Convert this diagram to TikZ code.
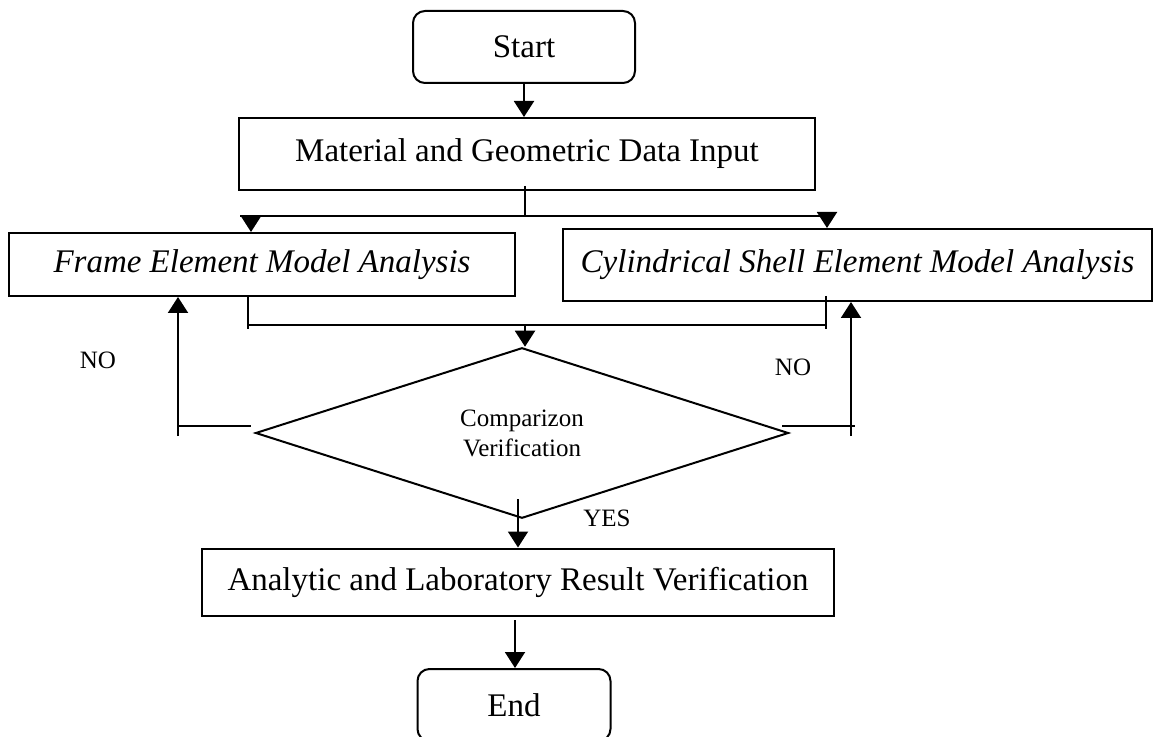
\documentclass[tikz,border=0pt]{standalone}
\usepackage{fontspec}
\setmainfont{Liberation Serif}
\usetikzlibrary{positioning, shapes.geometric, arrows.meta, calc}

\begin{document}
\begin{tikzpicture}[x=0.5pt, y=-0.5pt, line width=1pt,
    font=\fontsize{16.5}{19}\selectfont,
    box/.style={draw, rectangle, inner sep=0pt},
    rbox/.style={draw, rectangle, rounded corners=6pt, inner sep=0pt},
    arr/.style={-{Triangle[length=8pt, width=10pt]}},
    lbl/.style={font=\fontsize{12.5}{15}\selectfont}]
  \useasboundingbox (0,0) rectangle (1156,737);
  % boxes
  \node[rbox, minimum width=111pt, minimum height=36pt] (start) at (524,47) {Start};
  \node[box, minimum width=288pt, minimum height=36pt] (input) at (527,154) {Material and Geometric Data Input};
  \node[box, minimum width=253pt, minimum height=31.5pt, font=\fontsize{16.5}{19}\selectfont\itshape] (frame) at (262,264.5) {Frame Element Model Analysis};
  \node[box, minimum width=294.5pt, minimum height=36pt, font=\fontsize{16.5}{19}\selectfont\itshape] (shell) at (857.5,265) {Cylindrical Shell Element Model Analysis};
  \node[draw, diamond, inner sep=0pt, minimum width=266.5pt, minimum height=72.5pt, lbl, align=center] (cmp) at (522,433) {Comparizon\\Verification};
  \node[box, minimum width=316pt, minimum height=33.5pt] (result) at (518,582) {Analytic and Laboratory Result Verification};
  \node[rbox, minimum width=96.5pt, minimum height=36pt] (stop) at (514,705) {End};
  % split
  \draw[arr] (start.south) -- (start.south |- input.north);
  \coordinate (sp) at (525,216);
  \draw ($(input.south)+(-2,-5)$) -- (sp);
  \draw (240,216) -- (828,216);
  \draw[arr] (251,216) -- (251,216 |- frame.north);
  \draw[arr] (827,216) -- (827,216 |- shell.north);
  % merge
  \coordinate (mg) at (525,325);
  \draw (248,296) -- (248,329);
  \draw (826,296) -- (826,329);
  \draw (248,325) -- (826,325);
  \draw[arr] (mg) -- (mg |- cmp.north);
  % NO loops
  \draw (cmp.west) ++(-4,-7) -- (178,426);
  \draw[arr] (178,436) -- (178,436 |- frame.south);
  \draw (782,426) -- (855,426);
  \draw[arr] (851,436) -- (851,436 |- shell.south);
  \node[lbl] (noa) at (98,360) {NO};
  \node[lbl] (nob) at (793,367) {NO};
  % YES
  \coordinate (ys) at (518,499);
  \draw[arr] (ys) -- (ys |- result.north);
  \node[lbl] (yes) at (607,518) {YES};
  \coordinate (rs) at (515,620);
  \draw[arr] (rs) -- (rs |- stop.north);
\end{tikzpicture}
\end{document}
